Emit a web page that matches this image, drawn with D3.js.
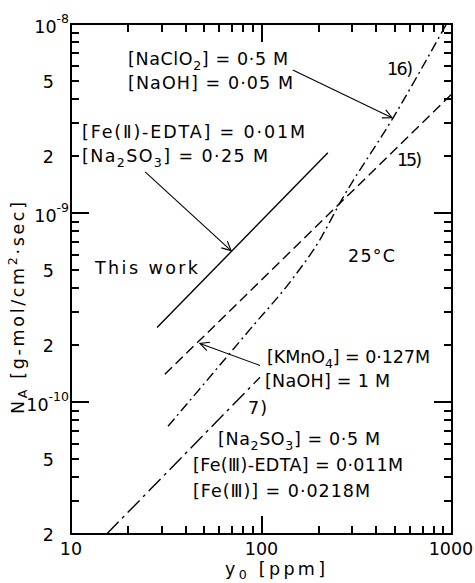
<!DOCTYPE html>
<html><head><meta charset="utf-8">
<script src="https://cdn.jsdelivr.net/npm/d3@7"></script>
<style>body{margin:0;background:#fff}</style>
</head><body><svg id="chart" width="475" height="583"></svg>
<script>
// Axis domains and tick labels
const xDomain = [10, 1000];
const yDomain = [2e-11, 1e-8];
const xTickValues = [10, 100, 1000];
const xTickLabels = ["10", "100", "1000"];
const yDecadeValues = [1e-10, 1e-9, 1e-8];
const yDecadeExponents = ["-10", "-9", "-8"];
const yMantissaValues = [2e-11, 5e-11, 2e-10, 5e-10, 2e-9, 5e-9];
const yMantissaLabels = ["2", "5", "2", "5", "2", "5"];
const xMinorTicks = [20, 30, 40, 50, 60, 70, 80, 90, 200, 300, 400, 500, 600, 700, 800, 900];
const yMinorTicks = [3e-11, 4e-11, 5e-11, 6e-11, 7e-11, 8e-11, 9e-11,
                     2e-10, 3e-10, 4e-10, 5e-10, 6e-10, 7e-10, 8e-10, 9e-10,
                     2e-9, 3e-9, 4e-9, 5e-9, 6e-9, 7e-9, 8e-9, 9e-9];

// Absorption rate N_A [g-mol/cm2.sec] vs inlet concentration y0 [ppm]
const thisWork = [[28.3, 2.48e-10], [223, 2.08e-9]];
const ref15 = [[31.1, 1.40e-10], [1000, 4.27e-9]];
const ref16 = [[32.3, 7.43e-11], [87.0, 2.42e-10], [146.9, 4.54e-10], [202.8, 7.23e-10],
               [258, 1.13e-9], [490, 3.18e-9], [930, 9.9e-9]];
const ref7 = [[15.4, 2e-11], [98.2, 1.35e-10]];

// Leader arrows: [from, to] in data units
const arrows = [
  [[24.5, 1.65e-9], [69.2, 6.32e-10]],
  [[146, 5.71e-9], [484, 3.19e-9]],
  [[98.2, 1.56e-10], [47.5, 2.04e-10]]
];

const W = 475, H = 583;
const m = {left: 71, top: 24, right: 23, bottom: 49};
const pw = W - m.left - m.right, ph = H - m.top - m.bottom;

const svg = d3.select("#chart");
const FONT = "'DejaVu Sans', sans-serif";
const FS = 17.5;

const x = d3.scaleLog().domain(xDomain).range([m.left, m.left + pw]);
const y = d3.scaleLog().domain(yDomain).range([m.top + ph, m.top]);

// Frame
svg.append("rect").attr("x", m.left).attr("y", m.top).attr("width", pw).attr("height", ph)
  .attr("fill", "none").attr("stroke", "#000").attr("stroke-width", 2);

// Inward ticks on all four sides, long at decades, short in between
const MAJ = 18, MIN = 8;
const xMajor = [10, 100, 1000], yMajor = [1e-10, 1e-9, 1e-8];
const xTickRows = xMinorTicks.map(v => ({v: v, len: MIN})).concat(xMajor.map(v => ({v: v, len: MAJ})));
const yTickRows = yMinorTicks.map(v => ({v: v, len: MIN})).concat(yMajor.map(v => ({v: v, len: MAJ})));
const r1 = v => Math.round(v * 10) / 10;
let tickD = "";
xTickRows.forEach(d => {
  const px = r1(x(d.v));
  tickD += "M" + px + "," + (m.top + ph) + "V" + (m.top + ph - d.len);
  tickD += "M" + px + "," + m.top + "V" + (m.top + d.len);
});
yTickRows.forEach(d => {
  const py = r1(y(d.v));
  tickD += "M" + m.left + "," + py + "H" + (m.left + d.len);
  tickD += "M" + (m.left + pw) + "," + py + "H" + (m.left + pw - d.len);
});
svg.append("path").attr("d", tickD)
  .attr("fill", "none").attr("stroke", "#000").attr("stroke-width", 2)
  .attr("shape-rendering", "crispEdges");

// Tick labels
const tl = svg.append("g").attr("font-family", FONT).attr("font-size", FS).attr("fill", "#000");
xTickValues.forEach((v, i) => {
  tl.append("text").attr("x", x(v) + (i === 2 ? -1 : 0)).attr("y", m.top + ph + 21)
    .attr("text-anchor", "middle").text(xTickLabels[i]);
});
yDecadeValues.forEach((v, i) => {
  const t = tl.append("text").attr("x", m.left - 2).attr("y", y(v) + 9).attr("text-anchor", "end");
  t.append("tspan").text("10");
  t.append("tspan").attr("font-size", 12.5).attr("dy", -10).text(yDecadeExponents[i]);
});
yMantissaValues.forEach((v, i) => {
  tl.append("text").attr("x", m.left - 17).attr("y", y(v) + 7).attr("text-anchor", "end").text(yMantissaLabels[i]);
});

// Rich text helper: _{..} subscript, ^{..} superscript
function rich(sel, str, sub) {
  const down = sub || 5;
  const re = /([_^])\{([^}]*)\}|([^_^]+)/g;
  let mt, shift = 0;
  while ((mt = re.exec(str)) !== null) {
    if (mt[3]) {
      sel.append("tspan").attr("dy", -shift).text(mt[3]);
      shift = 0;
    } else {
      const d = mt[1] === "_" ? down : -7;
      sel.append("tspan").attr("font-size", FS * 0.72).attr("dy", d - shift).text(mt[2]);
      shift = d;
    }
  }
  return sel;
}

// Axis titles
const xt = svg.append("text").attr("font-family", FONT).attr("font-size", FS)
  .attr("x", 225).attr("y", 575).attr("textLength", 100).attr("lengthAdjust", "spacing");
rich(xt, "y_{0}  [ppm]", 4);
const yt = svg.append("text").attr("font-family", FONT).attr("font-size", FS)
  .attr("transform", "translate(24,308) rotate(-90)").attr("text-anchor", "middle")
  .attr("textLength", 212).attr("lengthAdjust", "spacing");
rich(yt, "N_{A}  [g-mol/cm^{2}·sec]", 3);

// Curves
const toPx = d3.line().x(d => x(d[0])).y(d => y(d[1]));
const toPxSmooth = d3.line().x(d => x(d[0])).y(d => y(d[1])).curve(d3.curveMonotoneX);
const curves = svg.append("g").attr("fill", "none").attr("stroke", "#000").attr("stroke-width", 1.4);
curves.append("path").attr("d", toPx(thisWork));
curves.append("path").attr("d", toPx(ref15)).attr("stroke-dasharray", "10,5");
curves.append("path").attr("d", toPxSmooth(ref16)).attr("stroke-dasharray", "10,4,2,4");
curves.append("path").attr("d", toPx(ref7)).attr("stroke-dasharray", "17,5,3,5");

// Leader arrows
svg.append("defs").append("marker").attr("id", "head")
  .attr("markerUnits", "userSpaceOnUse").attr("markerWidth", 14).attr("markerHeight", 14)
  .attr("refX", 10).attr("refY", 7).attr("orient", "auto")
  .append("path").attr("d", "M1,2.5 L10,7 L1,11.5").attr("fill", "none").attr("stroke", "#000").attr("stroke-width", 1.1);
const ar = svg.append("g").attr("stroke", "#000").attr("stroke-width", 1.1);
arrows.forEach(a => {
  ar.append("line").attr("x1", x(a[0][0])).attr("y1", y(a[0][1]))
    .attr("x2", x(a[1][0])).attr("y2", y(a[1][1])).attr("marker-end", "url(#head)");
});

// Annotations [text, x, baseline, width]
const notes = [
  ["[NaClO_{2}] = 0·5 M", 128, 65, 160],
  ["[NaOH] = 0·05 M", 128, 89, 165],
  ["[Fe(Ⅱ)-EDTA] = 0·01M", 82, 138, 223],
  ["[Na_{2}SO_{3}] = 0·25 M", 82, 162, 186],
  ["This work", 95, 274, 103],
  ["25°C", 348, 262, 47],
  ["16)", 387, 75, 26],
  ["15)", 397, 166, 25],
  ["[KMnO_{4}] = 0·127M", 267, 363, 163],
  ["[NaOH] = 1 M", 265, 387, 125],
  ["7)", 248, 414, 19],
  ["[Na_{2}SO_{3}] = 0·5 M", 218, 445, 162],
  ["[Fe(Ⅲ)-EDTA] = 0·011M", 193, 471, 210],
  ["[Fe(Ⅲ)] = 0·0218M", 193, 497, 177]
];
const ann = svg.append("g").attr("font-family", FONT).attr("font-size", FS).attr("fill", "#000");
notes.forEach(n => {
  const t = ann.append("text").attr("x", n[1]).attr("y", n[2])
    .attr("textLength", n[3]).attr("lengthAdjust", "spacing");
  rich(t, n[0]);
});
</script></body></html>
